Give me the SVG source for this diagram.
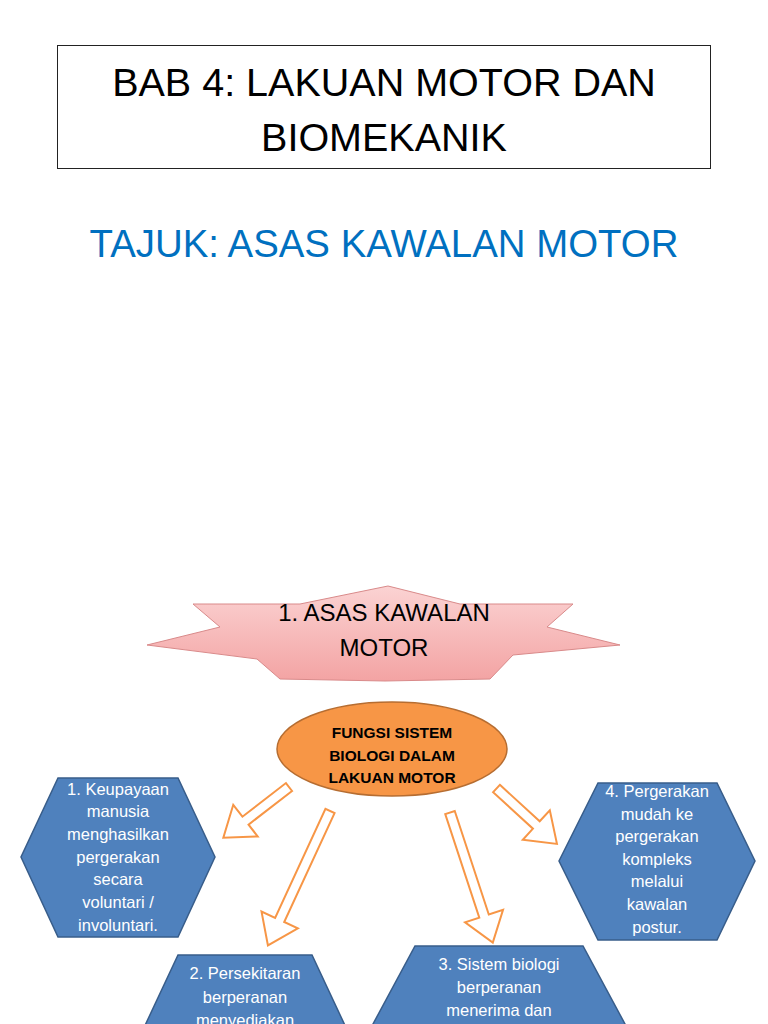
<svg xmlns="http://www.w3.org/2000/svg" width="768" height="1024" viewBox="0 0 768 1024">
<style>
.t{font-family:"Liberation Sans",Arial,sans-serif;text-anchor:middle}
.hex{fill:#4F81BD;stroke:#385D8A;stroke-width:1.5}
.ht{font-family:"Liberation Sans",Arial,sans-serif;text-anchor:middle;fill:#fff;font-size:16.5px}
.arr{fill:#fff;stroke:#F79646;stroke-width:2;stroke-linejoin:miter}
</style>
<defs>
<linearGradient id="pink" x1="0" y1="0" x2="0" y2="1">
<stop offset="0" stop-color="#FBD3D3"/>
<stop offset="1" stop-color="#F3A3A3"/>
</linearGradient>
</defs>
<rect width="768" height="1024" fill="#fff"/>
<g id="title">
<rect x="57.5" y="45.5" width="653" height="123" fill="#fff" stroke="#222" stroke-width="1"/>
<text class="t" x="384" y="96" font-size="39.5" fill="#000">BAB 4: LAKUAN MOTOR DAN</text>
<text class="t" x="384" y="151" font-size="39.5" fill="#000">BIOMEKANIK</text>
</g>
<g id="subtitle">
<text class="t" x="384" y="257" font-size="38.4" fill="#0070C0">TAJUK: ASAS KAWALAN MOTOR</text>
</g>
<g id="star">
<polygon points="388,586 460,604 573,604 547,627 620,645 513,655 490,679 385,681 280,679 257,659 147,645 220,627 193,604 300,604" fill="url(#pink)" stroke="#D98A8A" stroke-width="1"/>
<text class="t" x="384" y="621" font-size="24" fill="#000">1. ASAS KAWALAN</text>
<text class="t" x="384" y="656" font-size="24" fill="#000">MOTOR</text>
</g>
<g id="connectors">
<polygon class="arr" transform="translate(289,787) rotate(142.3)" points="0,-5 55,-5 55,-20 83,0 55,20 55,5 0,5"/>
<polygon class="arr" transform="translate(330,811) rotate(114.8)" points="0,-5 120,-5 120,-20 148,0 120,20 120,5 0,5"/>
<polygon class="arr" transform="translate(450,812.5) rotate(71.8)" points="0,-5 109,-5 109,-20 137,0 109,20 109,5 0,5"/>
<polygon class="arr" transform="translate(496.5,788.5) rotate(42.5)" points="0,-5 54,-5 54,-20 82,0 54,20 54,5 0,5"/>
</g>
<g id="center">
<ellipse cx="392" cy="749" rx="115" ry="47" fill="#F79646" stroke="#B66D31" stroke-width="1.5"/>
<text class="t" x="392" y="738" font-size="15.5" font-weight="bold" fill="#000">FUNGSI SISTEM</text>
<text class="t" x="392" y="761" font-size="15.5" font-weight="bold" fill="#000">BIOLOGI DALAM</text>
<text class="t" x="392" y="783" font-size="15.5" font-weight="bold" fill="#000">LAKUAN MOTOR</text>
</g>
<g id="hex1">
<polygon class="hex" points="58,778 178,778 215,857 178,937 58,937 21,857"/>
<text class="ht" x="118" y="795">1. Keupayaan</text>
<text class="ht" x="118" y="817">manusia</text>
<text class="ht" x="118" y="840">menghasilkan</text>
<text class="ht" x="118" y="863">pergerakan</text>
<text class="ht" x="118" y="885">secara</text>
<text class="ht" x="118" y="908">voluntari /</text>
<text class="ht" x="118" y="931">involuntari.</text>
</g>
<g id="hex4">
<polygon class="hex" points="598,783 717,783 755,861 717,940 598,940 559,861"/>
<text class="ht" x="657" y="797">4. Pergerakan</text>
<text class="ht" x="657" y="820">mudah ke</text>
<text class="ht" x="657" y="842">pergerakan</text>
<text class="ht" x="657" y="865">kompleks</text>
<text class="ht" x="657" y="887">melalui</text>
<text class="ht" x="657" y="910">kawalan</text>
<text class="ht" x="657" y="933">postur.</text>
</g>
<g id="hex2">
<polygon class="hex" points="178,955 312,955 349,1034 312,1113 178,1113 141,1034"/>
<text class="ht" x="245" y="979">2. Persekitaran</text>
<text class="ht" x="245" y="1003">berperanan</text>
<text class="ht" x="245" y="1026">menyediakan</text>
</g>
<g id="hex3">
<polygon class="hex" points="415,946 583,946 625,1024 583,1102 415,1102 373,1024"/>
<text class="ht" x="499" y="970">3. Sistem biologi</text>
<text class="ht" x="499" y="993">berperanan</text>
<text class="ht" x="499" y="1016">menerima dan</text>
</g>
</svg>
